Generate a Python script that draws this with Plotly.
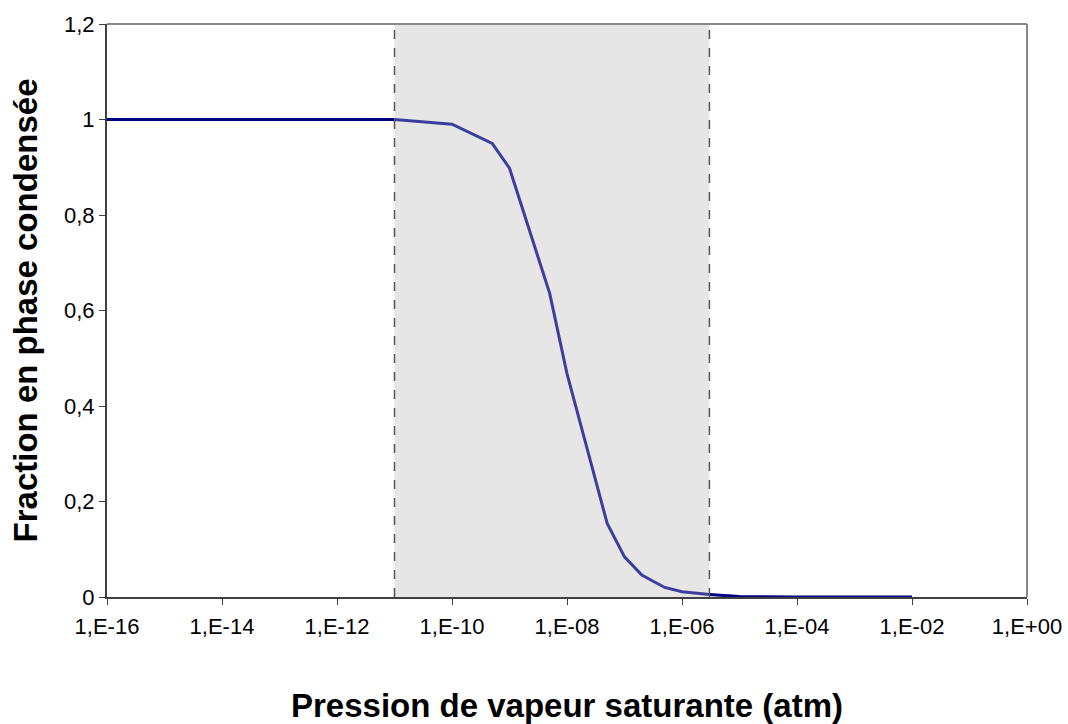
import plotly.graph_objects as go

# Saturation vapour pressure (atm) and fraction in condensed phase
pression = [1e-16, 1e-15, 1e-14, 1e-13, 1e-12, 1e-11, 1e-10, 5e-10, 1e-9,
            5e-9, 1e-8, 5e-8, 1e-7, 2e-7, 5e-7, 1e-6, 3e-6,
            1e-5, 1e-4, 1e-3, 1e-2]
fraction = [1.0, 1.0, 1.0, 1.0, 1.0, 1.0, 0.990, 0.950, 0.898,
            0.636, 0.468, 0.154, 0.084, 0.046, 0.020, 0.011, 0.005,
            0.001, 0.0, 0.0, 0.0]

# Highlighted pressure band
zone_min = 1e-11
zone_max = 3e-6

x_tickvals = [1e-16, 1e-14, 1e-12, 1e-10, 1e-8, 1e-6, 1e-4, 1e-2, 1e0]
x_ticktext = ["1,E-16", "1,E-14", "1,E-12", "1,E-10", "1,E-08", "1,E-06",
              "1,E-04", "1,E-02", "1,E+00"]
y_tickvals = [0, 0.2, 0.4, 0.6, 0.8, 1.0, 1.2]
y_ticktext = ["0", "0,2", "0,4", "0,6", "0,8", "1", "1,2"]

FONT = "Liberation Sans, Arial, sans-serif"

# split the curve: inside the band it shows through the grey fill
x_in, y_in, x_out_l, y_out_l, x_out_r, y_out_r = [], [], [], [], [], []
for p, f in zip(pression, fraction):
    if p <= zone_min:
        x_out_l.append(p); y_out_l.append(f)
    if p >= zone_max:
        x_out_r.append(p); y_out_r.append(f)
    if zone_min <= p <= zone_max:
        x_in.append(p); y_in.append(f)

fig = go.Figure()
for xs, ys, col in [(x_out_l, y_out_l, "#000080"),
                    (x_in, y_in, "#3d3d9e"),
                    (x_out_r, y_out_r, "#000080")]:
    fig.add_trace(go.Scatter(x=xs, y=ys, mode="lines",
                             line=dict(color=col, width=3),
                             showlegend=False, hoverinfo="x+y"))

# grey band
fig.add_shape(type="rect", xref="x", yref="paper", x0=zone_min, x1=zone_max,
              y0=0, y1=1, fillcolor="#e6e6e6", line_width=0, layer="below")
for xv in (zone_min, zone_max):
    fig.add_shape(type="line", xref="x", yref="paper", x0=xv, x1=xv, y0=0, y1=1,
                  line=dict(color="#555555", width=1.5, dash="dash"), layer="above")

# light frame on top and right
fig.add_shape(type="line", xref="paper", yref="paper", x0=0, x1=1, y0=1, y1=1,
              line=dict(color="#888888", width=2))
fig.add_shape(type="line", xref="paper", yref="paper", x0=1, x1=1, y0=0, y1=1,
              line=dict(color="#888888", width=2))

fig.update_layout(
    width=1068, height=724,
    margin=dict(l=107, r=41, t=24, b=127),
    paper_bgcolor="white", plot_bgcolor="white",
    font=dict(family=FONT, size=22, color="black"),
    xaxis=dict(type="log", range=[-16, 0], tickvals=x_tickvals, ticktext=x_ticktext,
               ticks="outside", ticklen=6, tickcolor="#404040", showgrid=False,
               zeroline=False, showline=True, linecolor="#404040", linewidth=2,
               tickfont=dict(size=22), automargin=False, ticklabelstandoff=3,
               title=dict(text="<b>Pression de vapeur saturante (atm)</b>",
                          font=dict(size=33), standoff=56)),
    yaxis=dict(range=[0, 1.2], tickvals=y_tickvals, ticktext=y_ticktext,
               ticks="outside", ticklen=6, tickcolor="#404040", showgrid=False,
               zeroline=False, showline=True, linecolor="#404040", linewidth=2,
               tickfont=dict(size=22), automargin=False,
               title=dict(text="<b>Fraction en phase condensée</b>",
                          font=dict(size=33), standoff=16)),
)

fig.write_html("out.html")
